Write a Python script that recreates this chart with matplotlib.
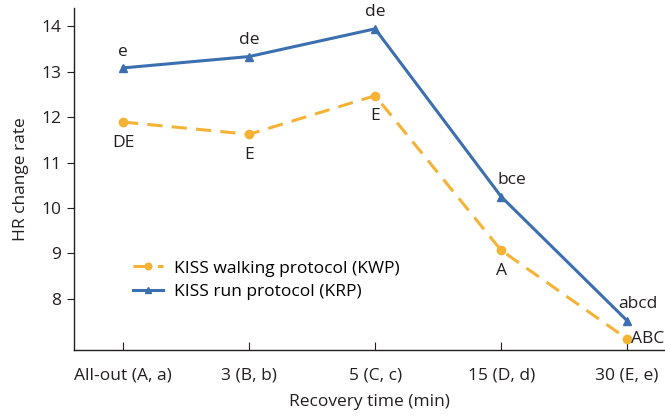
import matplotlib
matplotlib.use("Agg")
import matplotlib.pyplot as plt

plt.rcParams['font.family'] = ['Open Sans', 'DejaVu Sans']

times = ['All-out (A, a)', '3 (B, b)', '5 (C, c)', '15 (D, d)', '30 (E, e)']
kwp = [11.89, 11.62, 12.47, 9.07, 7.12]
krp = [13.08, 13.33, 13.94, 10.25, 7.52]
kwp_letters = ['DE', 'E', 'E', 'A', 'ABC']
krp_letters = ['e', 'de', 'de', 'bce', 'abcd']
# small horizontal nudges (points) for the run-protocol letters
krp_dx = [0, 0, 0, 8, 8]

blue = '#3b6fb0'
orange = '#f5b335'
ink = '#231f20'
fs = 12.5

fig = plt.figure(figsize=(6.65, 4.16), dpi=100)
ax = fig.add_axes([0.111, 0.159, 0.889, 0.822])
x = list(range(len(times)))

ax.plot(x, kwp, color=orange, lw=2.2, ls=(0, (5, 3)), marker='o', ms=6,
        label='KISS walking protocol (KWP)')
ax.plot(x, krp, color=blue, lw=2.2, marker='^', ms=6,
        label='KISS run protocol (KRP)')

# significance letters
for i, (v, s) in enumerate(zip(krp, krp_letters)):
    ax.annotate(s, (i, v), xytext=(krp_dx[i], 6), textcoords='offset points',
                ha='center', va='bottom', fontsize=fs, color=ink)
for i, (v, s) in enumerate(zip(kwp, kwp_letters)):
    if i == len(kwp) - 1:
        ax.annotate(s, (i, v), xytext=(3, 0), textcoords='offset points',
                    ha='left', va='center', fontsize=fs, color=ink)
    else:
        ax.annotate(s, (i, v), xytext=(0, -9), textcoords='offset points',
                    ha='center', va='top', fontsize=fs, color=ink)

ax.set_xlim(-0.39, 4.30)
ax.set_ylim(6.88, 14.4)
ax.set_yticks([8, 9, 10, 11, 12, 13, 14])
ax.set_xticks(x)
ax.set_xticklabels(times)
ax.tick_params(axis='x', direction='in', length=6, pad=13, labelsize=fs, colors=ink)
ax.tick_params(axis='y', direction='out', length=5, pad=4, labelsize=fs, colors=ink)
for sp in ['top', 'right']:
    ax.spines[sp].set_visible(False)
for sp in ['left', 'bottom']:
    ax.spines[sp].set_color(ink)
    ax.spines[sp].set_linewidth(1.0)

ax.set_xlabel('Recovery time (min)', fontsize=fs, color=ink, labelpad=7)
ax.set_ylabel('HR change rate', fontsize=fs, color=ink, labelpad=9)

ax.legend(loc='center left', bbox_to_anchor=(0.10, 0.203), frameon=False,
          fontsize=fs, handlelength=1.75, handletextpad=0.6, markerscale=0.8,
          labelspacing=0.45, borderpad=0, borderaxespad=0)

fig.savefig('out.png', dpi=100)
